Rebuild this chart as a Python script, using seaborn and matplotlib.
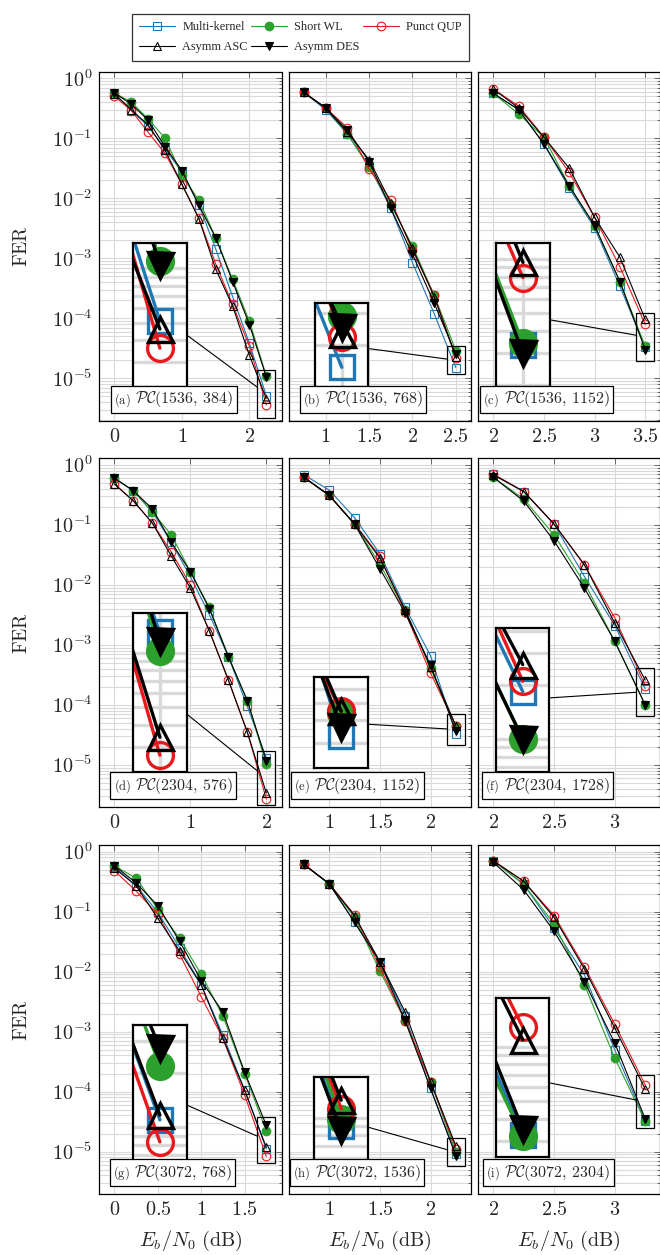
import numpy as np
import pandas as pd
import matplotlib
matplotlib.use("Agg")
import matplotlib.pyplot as plt
import seaborn as sns
from matplotlib.lines import Line2D
from matplotlib.patches import Rectangle
from matplotlib.offsetbox import TextArea, HPacker, AnchoredOffsetbox
from matplotlib.ticker import FixedLocator, LogLocator, NullFormatter, FuncFormatter

sns.set_theme(style="white")
plt.rcParams['font.family'] = ['Liberation Serif', 'DejaVu Serif']
plt.rcParams['mathtext.fontset'] = 'cm'

# ---------------- data ----------------
schemes = ["Multi-kernel", "Short WL", "Punct QUP", "Asymm ASC", "Asymm DES"]
panel_labels = ["a", "b", "c", "d", "e", "f", "g", "h", "i"]
code_N = [1536, 1536, 1536, 2304, 2304, 2304, 3072, 3072, 3072]
code_K = [384, 768, 1152, 576, 1152, 1728, 768, 1536, 2304]

a_snr = [0, 0.25, 0.5, 0.75, 1.0, 1.25, 1.5, 1.75, 2.0, 2.25]
a_mk = [0.55, 0.29, 0.16, 0.067, 0.027, 0.0077, 0.00144, 0.00023, 3.8e-5, 5.1e-6]
a_swl = [0.57, 0.40, 0.21, 0.10, 0.024, 0.0093, 0.0022, 0.00045, 8.9e-5, 1.1e-5]
a_pq = [0.50, 0.29, 0.125, 0.056, 0.017, 0.0047, 0.0008, 0.00017, 3.4e-5, 3.6e-6]
a_asc = [0.55, 0.30, 0.165, 0.063, 0.017, 0.0046, 0.00066, 0.00016, 2.4e-5, 4.6e-6]
a_des = [0.57, 0.37, 0.20, 0.072, 0.029, 0.0077, 0.0022, 0.00041, 7.8e-5, 1.05e-5]

b_snr = [0.75, 1.0, 1.25, 1.5, 1.75, 2.0, 2.25, 2.5]
b_mk = [0.58, 0.30, 0.118, 0.035, 0.0068, 0.00085, 0.00012, 1.5e-5]
b_swl = [0.58, 0.32, 0.118, 0.033, 0.0078, 0.0016, 0.000245, 2.9e-5]
b_pq = [0.58, 0.32, 0.15, 0.031, 0.0093, 0.00135, 0.000245, 2.2e-5]
b_asc = [0.58, 0.32, 0.125, 0.044, 0.0085, 0.00147, 0.00023, 2.3e-5]
b_des = [0.58, 0.32, 0.137, 0.041, 0.0068, 0.00117, 0.00018, 2.5e-5]

c_snr = [2.0, 2.25, 2.5, 2.75, 3.0, 3.25, 3.5]
c_mk = [0.56, 0.30, 0.080, 0.0147, 0.0032, 0.00034, 3.35e-5]
c_swl = [0.56, 0.254, 0.104, 0.016, 0.0035, 0.00041, 3.4e-5]
c_pq = [0.66, 0.345, 0.104, 0.027, 0.0048, 0.00072, 7.9e-5]
c_asc = [0.66, 0.32, 0.104, 0.0316, 0.0048, 0.00104, 9.6e-5]
c_des = [0.56, 0.30, 0.080, 0.016, 0.0035, 0.00041, 3.0e-5]

d_snr = [0, 0.25, 0.5, 0.75, 1.0, 1.25, 1.5, 1.75, 2.0]
d_mk = [0.60, 0.37, 0.163, 0.051, 0.0137, 0.0032, 0.00064, 9.4e-5, 1.3e-5]
d_swl = [0.60, 0.37, 0.163, 0.068, 0.0166, 0.0042, 0.00064, 0.000117, 1.02e-5]
d_pq = [0.48, 0.25, 0.107, 0.035, 0.010, 0.0017, 0.00026, 3.5e-5, 2.7e-6]
d_asc = [0.48, 0.25, 0.107, 0.030, 0.0088, 0.0017, 0.00026, 3.5e-5, 3.4e-6]
d_des = [0.60, 0.37, 0.185, 0.051, 0.0166, 0.0040, 0.00064, 0.000117, 1.16e-5]

e_snr = [0.75, 1.0, 1.25, 1.5, 1.75, 2.0, 2.25]
e_mk = [0.68, 0.38, 0.132, 0.033, 0.0042, 0.00066, 3.3e-5]
e_swl = [0.62, 0.31, 0.103, 0.022, 0.0038, 0.00041, 4.4e-5]
e_pq = [0.62, 0.31, 0.103, 0.030, 0.0035, 0.00034, 4.5e-5]
e_asc = [0.62, 0.31, 0.103, 0.028, 0.0038, 0.00043, 4.5e-5]
e_des = [0.62, 0.31, 0.103, 0.0186, 0.0034, 0.00046, 3.7e-5]

f_snr = [2.0, 2.25, 2.5, 2.75, 3.0, 3.25]
f_mk = [0.70, 0.36, 0.103, 0.0137, 0.0021, 0.000184]
f_swl = [0.62, 0.27, 0.068, 0.0107, 0.00114, 0.0001]
f_pq = [0.70, 0.36, 0.103, 0.0215, 0.0028, 0.00021]
f_asc = [0.68, 0.36, 0.103, 0.0215, 0.0023, 0.00026]
f_des = [0.62, 0.25, 0.054, 0.0088, 0.00114, 0.0001]

g_snr = [0, 0.25, 0.5, 0.75, 1.0, 1.25, 1.5, 1.75]
g_mk = [0.55, 0.27, 0.097, 0.025, 0.006, 0.00087, 0.000107, 1.1e-5]
g_swl = [0.58, 0.36, 0.11, 0.036, 0.009, 0.0018, 0.0002, 2.2e-5]
g_pq = [0.48, 0.22, 0.09, 0.0196, 0.0038, 0.00077, 8.7e-5, 8.3e-6]
g_asc = [0.53, 0.27, 0.077, 0.022, 0.006, 0.00077, 0.000105, 1.17e-5]
g_des = [0.58, 0.30, 0.125, 0.032, 0.0071, 0.0021, 0.00021, 2.75e-5]

h_snr = [0.75, 1.0, 1.25, 1.5, 1.75, 2.0, 2.25]
h_mk = [0.61, 0.29, 0.066, 0.0146, 0.0018, 0.000113, 9.0e-6]
h_swl = [0.61, 0.29, 0.080, 0.0102, 0.0015, 0.000147, 9.8e-6]
h_pq = [0.61, 0.29, 0.088, 0.0118, 0.0015, 0.000147, 1.12e-5]
h_asc = [0.61, 0.29, 0.085, 0.0146, 0.0021, 0.000147, 1.25e-5]
h_des = [0.61, 0.29, 0.066, 0.0146, 0.0015, 0.000113, 8.5e-6]

i_snr = [2.0, 2.25, 2.5, 2.75, 3.0, 3.25]
i_mk = [0.70, 0.285, 0.053, 0.0088, 0.00049, 3.25e-5]
i_swl = [0.70, 0.285, 0.062, 0.006, 0.00036, 3.2e-5]
i_pq = [0.70, 0.32, 0.086, 0.012, 0.00132, 0.000129]
i_asc = [0.70, 0.32, 0.080, 0.011, 0.00114, 0.00011]
i_des = [0.66, 0.23, 0.047, 0.0068, 0.00064, 3.5e-5]

x_ticks = [[0, 1, 2], [1, 1.5, 2, 2.5], [2, 2.5, 3, 3.5],
           [0, 1, 2], [1, 1.5, 2], [2, 2.5, 3],
           [0, 0.5, 1, 1.5], [1, 1.5, 2], [2, 2.5, 3]]

panels = [
    (a_snr, [a_mk, a_swl, a_pq, a_asc, a_des]),
    (b_snr, [b_mk, b_swl, b_pq, b_asc, b_des]),
    (c_snr, [c_mk, c_swl, c_pq, c_asc, c_des]),
    (d_snr, [d_mk, d_swl, d_pq, d_asc, d_des]),
    (e_snr, [e_mk, e_swl, e_pq, e_asc, e_des]),
    (f_snr, [f_mk, f_swl, f_pq, f_asc, f_des]),
    (g_snr, [g_mk, g_swl, g_pq, g_asc, g_des]),
    (h_snr, [h_mk, h_swl, h_pq, h_asc, h_des]),
    (i_snr, [i_mk, i_swl, i_pq, i_asc, i_des]),
]

# ---------------- styles / layout ----------------
styles = {
    "Multi-kernel": dict(color="#1f77b4", marker="s", mfc="none", ms=5.8),
    "Short WL": dict(color="#2ca02c", marker="o", mfc="#2ca02c", ms=6.2),
    "Punct QUP": dict(color="#e8191c", marker="o", mfc="none", ms=6.2),
    "Asymm ASC": dict(color="black", marker="^", mfc="none", ms=6.0),
    "Asymm DES": dict(color="black", marker="v", mfc="black", ms=6.0),
}
# inset bounds in axes fraction, spy centre (x, log10 y), caption left
inset_bounds = [(0.186, 0.097, 0.293, 0.411), (0.144, 0.096, 0.293, 0.242),
                (0.098, 0.096, 0.295, 0.414), (0.186, 0.100, 0.293, 0.458),
                (0.141, 0.112, 0.293, 0.261), (0.098, 0.102, 0.293, 0.413),
                (0.186, 0.093, 0.293, 0.392), (0.141, 0.093, 0.293, 0.241),
                (0.098, 0.105, 0.293, 0.457)]
spy_centres = [(2.25, -5.26), (2.5, -4.70), (3.5, -4.31), (2.0, -5.22),
               (2.25, -4.41), (3.25, -3.78), (1.75, -4.81), (2.25, -5.01),
               (3.25, -4.17)]
caption_left = [0.064, 0.059, 0.010, 0.059, 0.011, 0.019, 0.058, 0.006, 0.025]

W, H = 660.0, 1255.0
col_left = [99.3, 288.8, 478.2]
col_w = 182.2
row_top = [71.7, 458.3, 845.0]
row_h = 349.0
LOG_LO, LOG_HI = -5.707, 0.11
MAG = 3.0
GRID_C = "#d9d9d9"
LW, MEW = 0.8, 0.8
TICK_FS = 14.5

fig = plt.figure(figsize=(W / 100, H / 100), dpi=100)


def draw_series(ax, snr, vals, scale):
    for name, v in zip(schemes, vals):
        st = styles[name]
        df = pd.DataFrame({"snr": snr, "fer": v})
        sns.lineplot(data=df, x="snr", y="fer", ax=ax, color=st["color"],
                     marker=st["marker"], markersize=st["ms"] * scale,
                     markerfacecolor=st["mfc"], markeredgecolor=st["color"],
                     markeredgewidth=MEW * scale, linewidth=LW * scale,
                     legend=False, errorbar=None)
    ax.set_xlabel("")
    ax.set_ylabel("")


for idx, (snr, vals) in enumerate(panels):
    r, c = divmod(idx, 3)
    left = col_left[c] / W
    bottom = 1 - (row_top[r] + row_h) / H
    ax = fig.add_axes([left, bottom, col_w / W, row_h / H])
    ax.set_yscale("log")
    ax.set_axisbelow(True)
    draw_series(ax, snr, vals, 1.0)

    rng = snr[-1] - snr[0]
    xl0, xl1 = snr[0] - 0.1 * rng, snr[-1] + 0.1 * rng
    ax.set_xticks(x_ticks[idx])
    ax.set_xlim(xl0, xl1)
    ax.set_ylim(10 ** LOG_LO, 10 ** LOG_HI)
    ax.xaxis.set_major_formatter(FuncFormatter(lambda v, p: f"${v:g}$"))
    ax.yaxis.set_major_locator(FixedLocator([10.0 ** k for k in range(-5, 1)]))
    ax.yaxis.set_minor_locator(LogLocator(base=10, subs=np.arange(2, 10), numticks=30))
    ax.yaxis.set_minor_formatter(NullFormatter())
    if c == 0:
        ax.yaxis.set_major_formatter(
            FuncFormatter(lambda v, p: rf"$10^{{{int(round(np.log10(v)))}}}$"))
        ax.set_ylabel(r"$\mathrm{FER}$", fontsize=14)
        ax.yaxis.set_label_coords(-0.375, 0.5)
    else:
        ax.yaxis.set_major_formatter(NullFormatter())
    if r == 2:
        ax.set_xlabel(r"$E_b/N_0\ \mathrm{(dB)}$", fontsize=14.5)
        ax.xaxis.set_label_coords(0.5, -0.1)
    ax.tick_params(which="both", direction="in", top=True, right=True,
                   color="#555555", width=0.6, labelsize=TICK_FS)
    ax.tick_params(which="major", length=4, pad=5)
    ax.tick_params(which="minor", length=2.5)
    ax.grid(True, which="major", axis="both", color=GRID_C, lw=0.8)
    ax.grid(True, which="minor", axis="y", color=GRID_C, lw=0.8)
    for sp in ax.spines.values():
        sp.set_color("black")
        sp.set_linewidth(0.9)

    # ---- magnified inset (spy) ----
    bx, by, bw, bh = inset_bounds[idx]
    cx, cy = spy_centres[idx]
    ins = ax.inset_axes([bx, by, bw, bh])
    ins.set_yscale("log")
    ins.set_axisbelow(True)
    draw_series(ins, snr, vals, MAG)
    xs = bw * (xl1 - xl0) / MAG
    ys = bh * (LOG_HI - LOG_LO) / MAG
    ins.set_xticks(x_ticks[idx])
    ins.yaxis.set_major_locator(FixedLocator([10.0 ** k for k in range(-6, 1)]))
    ins.yaxis.set_minor_locator(LogLocator(base=10, subs=np.arange(2, 10), numticks=30))
    ins.set_xlim(cx - xs / 2, cx + xs / 2)
    ins.set_ylim(10 ** (cy - ys / 2), 10 ** (cy + ys / 2))
    ins.tick_params(which="both", length=0, labelbottom=False, labelleft=False)
    ins.grid(True, which="major", axis="both", color=GRID_C, lw=0.8 * MAG)
    ins.grid(True, which="minor", axis="y", color=GRID_C, lw=0.8 * MAG)
    ins.set_facecolor("white")
    for sp in ins.spines.values():
        sp.set_color("black")
        sp.set_linewidth(1.6)

    # small rectangle in main axes
    sx = (cx - xl0) / (xl1 - xl0)
    sy = (cy - LOG_LO) / (LOG_HI - LOG_LO)
    sw, sh = bw / MAG, bh / MAG
    ax.add_patch(Rectangle((sx - sw / 2, sy - sh / 2), sw, sh, transform=ax.transAxes,
                           fill=False, ec="black", lw=0.9, zorder=4, clip_on=False))
    # connector between the two boxes (centre-to-centre, clipped at borders)
    ax0, ay0 = bx + bw / 2, by + bh / 2
    dx, dy = sx - ax0, sy - ay0
    t1 = min((bw / 2) / abs(dx) if dx else np.inf, (bh / 2) / abs(dy) if dy else np.inf)
    t2 = 1 - min((sw / 2) / abs(dx) if dx else np.inf, (sh / 2) / abs(dy) if dy else np.inf)
    ax.add_line(Line2D([ax0 + t1 * dx, ax0 + t2 * dx], [ay0 + t1 * dy, ay0 + t2 * dy],
                       transform=ax.transAxes, color="black", lw=0.8, zorder=4,
                       clip_on=False))

    # caption box
    t_lab = TextArea(rf"$\mathrm{{({panel_labels[idx]})}}$", textprops=dict(fontsize=9))
    t_code = TextArea(rf"$\mathcal{{PC}}({code_N[idx]},\,{code_K[idx]})$",
                      textprops=dict(fontsize=11.5))
    pack = HPacker(children=[t_lab, t_code], align="baseline", pad=0, sep=3)
    cap = AnchoredOffsetbox(loc="lower left", child=pack, pad=0.25, borderpad=0,
                            frameon=True, bbox_to_anchor=(caption_left[idx], 0.023),
                            bbox_transform=ax.transAxes, prop=dict(size=10))
    cap.patch.set_boxstyle("square", pad=0)
    cap.patch.set_edgecolor("black")
    cap.patch.set_linewidth(0.9)
    cap.patch.set_facecolor("white")
    cap.set_zorder(6)
    ax.add_artist(cap)

# ---------------- legend ----------------
handles = {}
for name in schemes:
    st = styles[name]
    handles[name] = Line2D([], [], color=st["color"], marker=st["marker"], ms=st["ms"],
                           mfc=st["mfc"], mec=st["color"], mew=MEW, lw=LW, label=name)
order = ["Multi-kernel", "Asymm ASC", "Short WL", "Asymm DES", "Punct QUP"]
leg = fig.legend([handles[n] for n in order], order, ncol=3, loc="upper center",
                 bbox_to_anchor=(300.5 / W, 1 - 8 / H), frameon=True, fancybox=False,
                 edgecolor="black", fontsize=8.8, handlelength=2.9, handletextpad=0.6,
                 columnspacing=0.3, labelspacing=0.65, borderpad=0.6)
leg.get_frame().set_linewidth(0.9)

fig.savefig("out.png", dpi=100)
